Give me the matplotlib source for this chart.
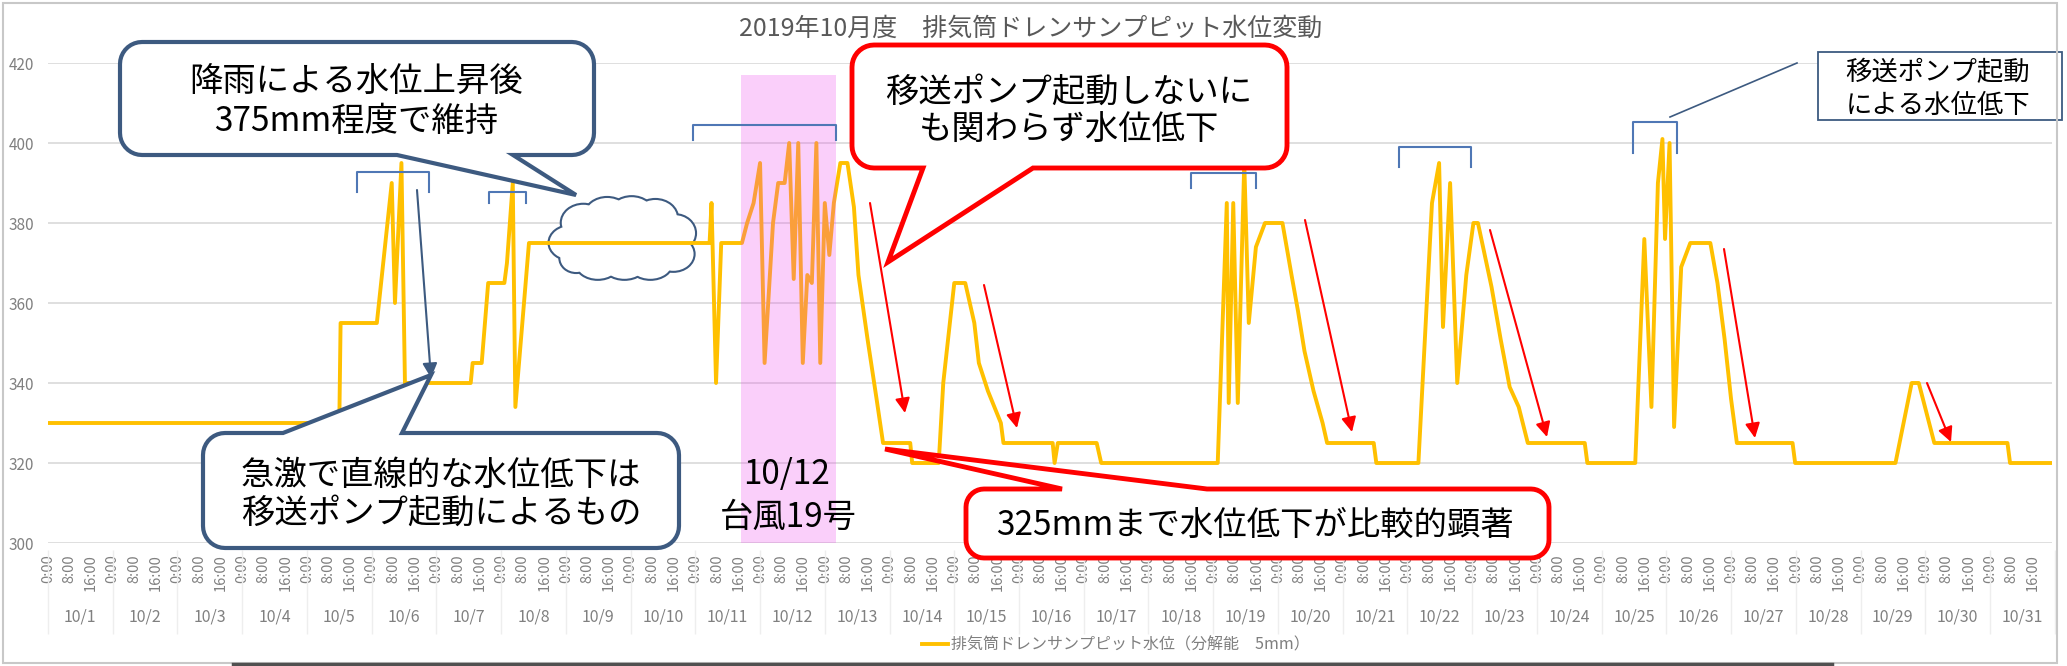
import numpy as np
import matplotlib
matplotlib.use("Agg")
import matplotlib.pyplot as plt
import matplotlib.transforms as mtransforms
from matplotlib.patches import Polygon, Rectangle, Ellipse
from matplotlib.lines import Line2D

plt.rcParams['font.family'] = ['Noto Sans CJK JP', 'DejaVu Sans']

# --- data: pit water level, time in days from 10/1 0:00, level in mm ---
t_days = [0, 4.50, 4.52, 5.08, 5.31, 5.36, 5.46, 5.52, 5.54, 6.53, 6.56, 6.70,
          6.80, 7.05, 7.09, 7.18, 7.22, 7.43, 10.22, 10.25, 10.32, 10.40, 10.72,
          10.80, 10.90, 11.00, 11.07, 11.20, 11.28, 11.38, 11.45, 11.52, 11.59,
          11.66, 11.73, 11.80, 11.87, 11.93, 12.00, 12.07, 12.14, 12.24, 12.35,
          12.45, 12.52, 12.66, 12.80, 12.90, 13.32, 13.35, 13.76, 13.83, 14.00,
          14.17, 14.31, 14.38, 14.52, 14.62, 14.72, 14.76, 15.52, 15.55, 15.60,
          16.20, 16.27, 18.07, 18.21, 18.24, 18.31, 18.38, 18.48, 18.55, 18.66,
          18.80, 19.07, 19.21, 19.31, 19.41, 19.55, 19.69, 19.76, 20.48, 20.52,
          21.17, 21.38, 21.49, 21.55, 21.66, 21.77, 21.91, 22.02, 22.09, 22.30,
          22.44, 22.58, 22.72, 22.86, 23.74, 23.78, 24.52, 24.66, 24.77, 24.87,
          24.94, 24.98, 25.05, 25.12, 25.23, 25.37, 25.68, 25.79, 25.90, 26.00,
          26.09, 26.95, 26.99, 28.54, 28.79, 28.90, 29.14, 30.27, 30.31, 30.958]
level = [330, 330, 355, 355, 390, 360, 395, 334, 340, 340, 345, 345,
         365, 365, 370, 390, 334, 375, 375, 385, 340, 375, 375,
         380, 385, 395, 345, 380, 390, 390, 400, 366, 400,
         345, 367, 365, 400, 345, 385, 372, 385, 395, 395,
         384, 367, 351, 336, 325, 325, 320, 320, 340, 365,
         365, 355, 345, 338, 334, 330, 325, 325, 320, 325,
         325, 320, 320, 385, 335, 385, 335, 395, 355, 374,
         380, 380, 367, 358, 348, 338, 330, 325, 325, 320,
         320, 385, 395, 354, 390, 340, 367, 380, 380, 364,
         351, 339, 334, 325, 325, 320, 320, 376, 334, 390,
         401, 376, 400, 329, 369, 375, 375, 365, 351, 336,
         325, 325, 320, 320, 340, 340, 325, 325, 320, 320]

days = ["10/%d" % d for d in range(1, 32)]
hour_labels = ["0:00", "8:00", "16:00"]
y_ticks = [300, 320, 340, 360, 380, 400, 420]
typhoon_span = (10.71, 12.17)

title = "2019年10月度\u3000排気筒ドレンサンプピット水位変動"
series_name = "排気筒ドレンサンプピット水位（分解能\u30005mm）"

W, H = 2067, 666
fig = plt.figure(figsize=(W / 100, H / 100), dpi=100)
ax = fig.add_axes([48 / W, 1 - 543 / H, 2004 / W, 480 / H])
# pixel coordinates (y down) for the hand-drawn annotations
pix = mtransforms.Affine2D().scale(1 / W, -1 / H).translate(0, 1) + fig.transFigure

ax.plot(t_days, level, color='#FFC000', lw=2.8, zorder=3, label=series_name,
        solid_joinstyle='round')
ax.add_patch(Rectangle((typhoon_span[0], 300), typhoon_span[1] - typhoon_span[0], 117,
                       fc=(0.93, 0.25, 0.93), alpha=0.25, ec='none', zorder=4))

ax.set_xlim(0, 30.958)
ax.set_ylim(300, 420)
ax.set_yticks(y_ticks)
xt = np.arange(93) / 3
ax.set_xticks(xt)
ax.set_xticklabels([hour_labels[i % 3] for i in range(93)], rotation=90,
                   fontsize=10.5, color='#808080', va='top')
ax.tick_params(axis='x', length=0, pad=8)
ax.tick_params(axis='y', length=0, pad=10, labelsize=11, labelcolor='#808080')
for s in ax.spines.values():
    s.set_visible(False)
ax.yaxis.grid(True, color='#D9D9D9', lw=1.2)
ax.set_axisbelow(True)

xa = ax.get_xaxis_transform()
for i, d in enumerate(days):
    ax.text(i + 0.5, -0.154, d, transform=xa, ha='center', va='center',
            fontsize=11.5, color='#808080')
ax.vlines(np.arange(32), -0.015, -0.19, transform=xa, color='#EEEEEE', lw=1, clip_on=False)

fig.text(1031 / W, 1 - 29 / H, title, ha='center', va='center', fontsize=18, color='#595959')
ax.legend(loc='center', bbox_to_anchor=(1116 / W, 1 - 645 / H), bbox_transform=fig.transFigure,
          frameon=False, fontsize=11.5, labelcolor='#7F7F7F', handlelength=1.6, handletextpad=0.2)

# chart frame
fig.add_artist(Rectangle((3, 3), 2054, 660, transform=pix, fc='none', ec='#C8C8C8', lw=1.5))
fig.add_artist(Line2D([233, 1832], [664, 664], transform=pix, color='#505050', lw=2.5))


def callout(x0, y0, x1, y1, r, side, ba, bb, tip):
    pts = []

    def arc(cx, cy, a0, a1):
        for a in np.linspace(a0, a1, 10):
            pts.append((cx + r * np.cos(a), cy + r * np.sin(a)))
    arc(x0 + r, y0 + r, np.pi, 1.5 * np.pi)
    if side == 'top':
        pts.extend([(ba, y0), tip, (bb, y0)])
    arc(x1 - r, y0 + r, 1.5 * np.pi, 2 * np.pi)
    arc(x1 - r, y1 - r, 0, 0.5 * np.pi)
    if side == 'bottom':
        pts.extend([(bb, y1), tip, (ba, y1)])
    arc(x0 + r, y1 - r, 0.5 * np.pi, np.pi)
    return pts


navy = '#3D5A80'
red = '#FF0000'
bracket_c = '#4F77B5'

# cloud (outline only, line visible through it)
cx, cy, hx, hy = 623, 238, 72, 40
bumps = [(-0.72, 0.12, 0.30, 0.42), (-0.55, -0.38, 0.30, 0.45), (-0.22, -0.58, 0.30, 0.42),
         (0.12, -0.60, 0.30, 0.42), (0.45, -0.50, 0.30, 0.45), (0.72, -0.12, 0.28, 0.45),
         (0.70, 0.40, 0.28, 0.42), (0.38, 0.62, 0.30, 0.40), (0.02, 0.64, 0.30, 0.38),
         (-0.35, 0.62, 0.30, 0.40), (-0.65, 0.50, 0.22, 0.35), (0, 0, 0.75, 0.62)]
for bx, by, rx, ry in bumps:
    ax.add_patch(Ellipse((cx + bx * hx, cy + by * hy), 2 * rx * hx, 2 * ry * hy, transform=pix,
                         fc='white', ec=navy, lw=3, zorder=1.5, clip_on=False))
for bx, by, rx, ry in bumps:
    ax.add_patch(Ellipse((cx + bx * hx, cy + by * hy), 2 * rx * hx, 2 * ry * hy, transform=pix,
                         fc='white', ec='none', zorder=1.6, clip_on=False))

# brackets over the pump peaks
for x0, x1, yt, yb in [(357, 429, 172, 192), (489, 526, 192, 203), (693, 836, 125, 140),
                       (1191, 1256, 173, 188), (1399, 1471, 147, 167), (1633, 1677, 122, 153)]:
    ax.add_line(Line2D([x0, x0, x1, x1], [yb, yt, yt, yb], transform=pix, color=bracket_c,
                       lw=1.5, zorder=6, clip_on=False))

# red arrows along the gradual drops
for (xa0, ya0), (xa1, ya1) in [((870, 203), (905, 413)), ((984, 285), (1017, 428)),
                               ((1305, 220), (1352, 432)), ((1490, 230), (1547, 437)),
                               ((1724, 249), (1755, 438)), ((1927, 383), (1951, 442))]:
    ax.annotate('', xy=(xa1, ya1), xytext=(xa0, ya0), xycoords=pix, textcoords=pix,
                arrowprops=dict(arrowstyle='-|>', color=red, lw=1.5, mutation_scale=22,
                                shrinkA=0, shrinkB=0), zorder=7, annotation_clip=False)

ax.annotate('', xy=(431, 378), xytext=(417, 190), xycoords=pix, textcoords=pix,
            arrowprops=dict(arrowstyle='-|>', color=navy, lw=1.5, mutation_scale=22,
                            shrinkA=0, shrinkB=0), zorder=7, annotation_clip=False)

# speech callouts
boxes = [
    (callout(120, 42, 594, 155, 22, 'bottom', 397, 513, (576, 195)), navy, 3.0,
     [(356, 82, "降雨による水位上昇後"), (356, 122, "375mm程度で維持")]),
    (callout(852, 45, 1287, 168, 22, 'bottom', 923, 1033, (888, 262)), red, 3.5,
     [(1069, 92, "移送ポンプ起動しないに"), (1069, 130, "も関わらず水位低下")]),
    (callout(203, 433, 679, 548, 22, 'top', 283, 402, (431, 375)), navy, 3.0,
     [(441, 475, "急激で直線的な水位低下は"), (441, 513, "移送ポンプ起動によるもの")]),
    (callout(966, 489, 1549, 558, 18, 'top', 1062, 1207, (885, 449)), red, 3.5,
     [(1255, 525, "325mmまで水位低下が比較的顕著")]),
]
for pts, ec, lw, lines in boxes:
    ax.add_patch(Polygon(pts, closed=True, transform=pix, fc='white', ec=ec, lw=lw,
                         zorder=8, clip_on=False))
    for tx, ty, s in lines:
        ax.text(tx, ty, s, transform=pix, ha='center', va='center', fontsize=24,
                color='black', zorder=9)

ax.text(787, 475, "10/12", transform=pix, ha='center', va='center', fontsize=24, zorder=9)
ax.text(788, 517, "台風19号", transform=pix, ha='center', va='center', fontsize=24, zorder=9)

# line callout box at top right
ax.add_line(Line2D([1797, 1670], [63, 117], transform=pix, color=navy, lw=1.2,
                   zorder=8, clip_on=False))
ax.add_patch(Rectangle((1818, 52), 244, 68, transform=pix, fc='white', ec=navy, lw=1.3,
                       zorder=8, clip_on=False))
ax.text(1938, 73, "移送ポンプ起動", transform=pix, ha='center', va='center', fontsize=19, zorder=9)
ax.text(1938, 105, "による水位低下", transform=pix, ha='center', va='center', fontsize=19, zorder=9)

fig.savefig("out.png", dpi=100, facecolor='white')
